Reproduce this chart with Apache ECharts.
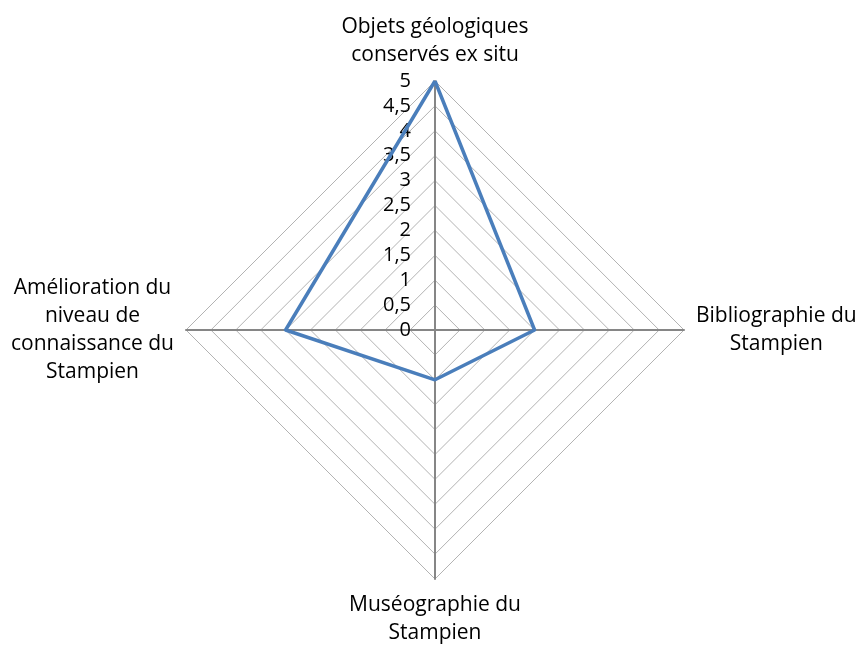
<!DOCTYPE html>
<html>
<head>
<meta charset="utf-8">
<script src="https://cdn.jsdelivr.net/npm/echarts@6/dist/echarts.min.js"></script>
<style>
html,body{margin:0;padding:0;background:#fff;}
#chart{width:863px;height:647px;}
</style>
</head>
<body>
<div id="chart"></div>
<script>
// Axes of the radar (ECharts lays them out counter-clockwise from the top)
const categories = [
  'Objets géologiques\nconservés ex situ',
  'Amélioration du\nniveau de\nconnaissance du\nStampien',
  'Muséographie du\nStampien',
  'Bibliographie du\nStampien'
];
// Scores per axis
const scores = [5, 3, 1, 2];
// Scale of the rings
const scaleMax = 5;
const scaleStep = 0.5;

const FONT = '"Open Sans", Lato, sans-serif';
const NAME_FS = 21;
const TICK_FS = 20;
const cx = 435, cy = 330, R = 249;

const chart = echarts.init(document.getElementById('chart'), null, {renderer: 'canvas'});

chart.setOption({
  backgroundColor: '#ffffff',
  animation: false,
  // Vertical value scale drawn alongside the top axis
  grid: {left: cx, width: 1, top: cy - R, height: R, containLabel: false},
  xAxis: {type: 'value', show: false, min: 0, max: 1},
  yAxis: {
    type: 'value', min: 0, max: scaleMax, interval: scaleStep,
    axisLine: {show: false}, axisTick: {show: false}, splitLine: {show: false},
    axisLabel: {
      margin: 24, color: '#000', fontFamily: FONT, fontSize: TICK_FS,
      formatter: v => String(v).replace('.', ',')
    }
  },
  radar: {
    center: [cx, cy],
    radius: R,
    startAngle: 90,
    shape: 'polygon',
    splitNumber: scaleMax / scaleStep,
    indicator: categories.map(name => ({name: name, min: 0, max: scaleMax})),
    nameGap: 12,
    axisName: {
      color: '#000',
      fontFamily: FONT,
      fontSize: NAME_FS,
      formatter: name => name.split('\n').map(l => '{c|' + l + '}').join('\n'),
      rich: {c: {align: 'center', fontFamily: FONT, fontSize: NAME_FS, lineHeight: 28, color: '#000'}}
    },
    axisLine: {lineStyle: {color: '#868686', width: 2}},
    splitLine: {lineStyle: {color: '#b3b3b3', width: 1}},
    splitArea: {show: false}
  },
  series: [{
    type: 'radar',
    symbol: 'none',
    lineStyle: {color: '#4a7ebb', width: 3.5},
    data: [{value: scores}]
  }]
});
</script>
</body>
</html>
